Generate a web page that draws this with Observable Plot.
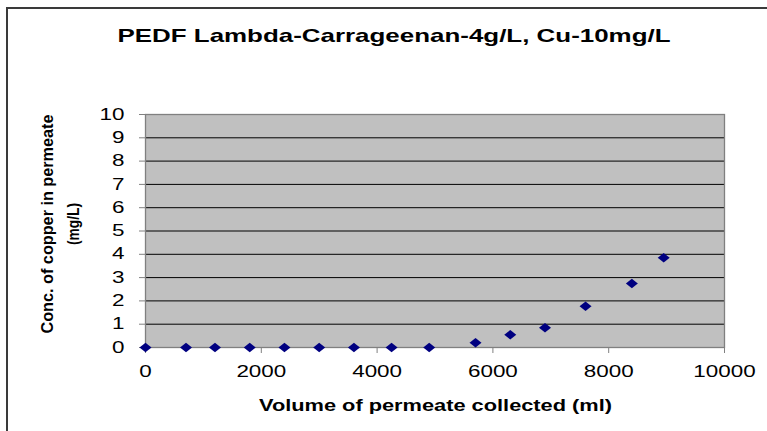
<!DOCTYPE html>
<html>
<head>
<meta charset="utf-8">
<script src="https://cdn.jsdelivr.net/npm/d3@7"></script>
<script src="https://cdn.jsdelivr.net/npm/@observablehq/plot@0.6"></script>
<style>
  html, body { margin: 0; padding: 0; background: #fff; overflow: hidden; }
  #wrap { position: relative; width: 767px; height: 431px; overflow: hidden; }
  #border { position: absolute; left: 6px; top: 7px; width: 900px; height: 600px; border: 2px solid #3a3a3a; pointer-events: none; }
  svg { display: block; }
</style>
</head>
<body>
<div id="wrap"><div id="border"></div></div>
<script>
const titleText = "PEDF Lambda-Carrageenan-4g/L, Cu-10mg/L";
const xTitle = "Volume of permeate collected (ml)";
const yTitle1 = "Conc. of copper in permeate";
const yTitle2 = "(mg/L)";

const volume = [0, 700, 1200, 1800, 2400, 3000, 3600, 4250, 4900, 5700, 6300, 6900, 7600, 8400, 8950];
const copper = [0, 0, 0, 0, 0, 0, 0, 0, 0, 0.2, 0.55, 0.85, 1.77, 2.75, 3.85];
const xTicks = [0, 2000, 4000, 6000, 8000, 10000];
const yTicks = [0, 1, 2, 3, 4, 5, 6, 7, 8, 9, 10];
const gridTicks = [1, 2, 3, 4, 5, 6, 7, 8, 9];

const data = volume.map((v, i) => ({volume: v, copper: copper[i]}));

// wide diamond marker
const wideDiamond = {
  draw(context, size) {
    const r = Math.sqrt(size / Math.PI);
    const w = r * 1.2, h = r * 0.95;
    context.moveTo(0, -h);
    context.lineTo(w, 0);
    context.lineTo(0, h);
    context.lineTo(-w, 0);
    context.closePath();
  }
};

const font = "'Liberation Sans', Arial, sans-serif";

const chart = Plot.plot({
  width: 767,
  height: 431,
  marginLeft: 145,
  marginRight: 43,
  marginTop: 114,
  marginBottom: 84,
  style: {fontFamily: font, background: "transparent", color: "#000", overflow: "visible"},
  x: {domain: [0, 10000]},
  y: {domain: [0, 10]},
  marks: [
    Plot.frame({fill: "#C0C0C0", stroke: "none"}),
    Plot.gridY(gridTicks, {stroke: "#000", strokeOpacity: 1, strokeWidth: 1}),
    Plot.frame({stroke: "#808080", strokeWidth: 1.3}),
    Plot.axisX(xTicks, {tickSize: 6, tickPadding: 12, fontSize: 16, tickFormat: "d", stroke: "#808080", fill: "#000", label: null}),
    Plot.axisY(yTicks, {tickSize: 6, tickPadding: 15, fontSize: 16, tickFormat: "d", stroke: "#808080", fill: "#000", label: null}),
    Plot.dot(data, {x: "volume", y: "copper", symbol: wideDiamond, r: 5, fill: "#000080", stroke: "none"}),
    Plot.text([titleText], {frameAnchor: "top", dx: -41, dy: -72.5, lineAnchor: "bottom", fontSize: 19, fontWeight: "bold", fill: "#000"}),
    Plot.text([xTitle], {frameAnchor: "bottom", dx: 0.5, dy: 63.5, lineAnchor: "bottom", fontSize: 17, fontWeight: "bold", fill: "#000"}),
    Plot.text([yTitle1], {frameAnchor: "left", textAnchor: "middle", rotate: -90, dx: -93, dy: -7, lineAnchor: "bottom", fontSize: 16, fontWeight: "bold", fill: "#000"}),
    Plot.text([yTitle2], {frameAnchor: "left", textAnchor: "middle", rotate: -90, dx: -66.5, dy: -7, lineAnchor: "bottom", fontSize: 16, fontWeight: "bold", fill: "#000"})
  ]
});

document.getElementById("wrap").insertBefore(chart, document.getElementById("border"));

// horizontal stretch of the text, as in the reference rendering
const targets = new Map([[titleText, 553], [xTitle, 353], [yTitle1, 219], [yTitle2, 42]]);
d3.select(chart).selectAll("text").each(function() {
  const t = this.textContent;
  const len = this.getComputedTextLength();
  const target = targets.has(t) ? targets.get(t) : len * 1.4;
  this.setAttribute("textLength", target);
  this.setAttribute("lengthAdjust", "spacingAndGlyphs");
});
</script>
</body>
</html>
